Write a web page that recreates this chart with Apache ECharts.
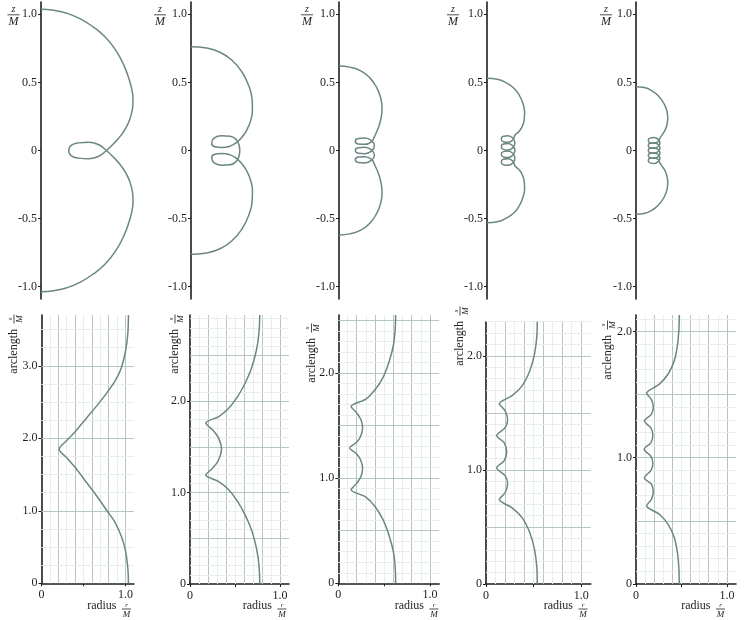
<!DOCTYPE html>
<html>
<head>
<meta charset="utf-8">
<script src="https://cdn.jsdelivr.net/npm/echarts@6/dist/echarts.min.js"></script>
<style>
html, body { margin: 0; padding: 0; background: #fff; }
#main { width: 747px; height: 620px; }
</style>
</head>
<body>
<div id="main"></div>
<script>
// tick labels
var zTicks = [-1, -0.5, 0, 0.5, 1];
var radiusLabels = [0, 1];
var radiusTicks = [0, 0.5, 1];
var arcLabels1 = [0, 1, 2, 3];
var arcLabels = [0, 1, 2];

// meridian curves, [r/M, z/M]
var meridian1 = [[0,1.037],[0.093,1.029],[0.191,1.007],[0.289,0.966],[0.387,0.904],[0.473,0.831],[0.547,0.738],[0.608,0.627],[0.652,0.505],[0.668,0.44],[0.675,0.382],[0.674,0.33],[0.666,0.28],[0.640,0.199],[0.592,0.118],[0.534,0.051],[0.480,0],[0.424,-0.042],[0.350,-0.061],[0.277,-0.056],[0.221,-0.037],[0.203,0],[0.221,0.037],[0.277,0.056],[0.350,0.061],[0.424,0.042],[0.480,0],[0.534,-0.051],[0.592,-0.118],[0.640,-0.199],[0.666,-0.28],[0.674,-0.33],[0.675,-0.382],[0.668,-0.44],[0.652,-0.505],[0.608,-0.627],[0.547,-0.738],[0.473,-0.831],[0.387,-0.904],[0.289,-0.966],[0.191,-1.007],[0.093,-1.029],[0,-1.037]];
var meridian2 = [[0,0.762],[0.115,0.752],[0.213,0.721],[0.299,0.664],[0.373,0.578],[0.422,0.480],[0.449,0.370],[0.451,0.297],[0.439,0.223],[0.409,0.150],[0.373,0.096],[0.331,0.056],[0.287,0.032],[0.225,0.022],[0.176,0.027],[0.152,0.051],[0.169,0.091],[0.225,0.108],[0.287,0.105],[0.331,0.081],[0.353,0.039],[0.358,0],[0.353,-0.039],[0.331,-0.081],[0.287,-0.105],[0.225,-0.108],[0.169,-0.091],[0.152,-0.051],[0.176,-0.027],[0.225,-0.022],[0.287,-0.032],[0.331,-0.056],[0.373,-0.096],[0.409,-0.150],[0.439,-0.223],[0.451,-0.297],[0.449,-0.370],[0.422,-0.480],[0.373,-0.578],[0.299,-0.664],[0.213,-0.721],[0.115,-0.752],[0,-0.762]];
var meridian3 = [[0,0.62],[0.08,0.612],[0.16,0.585],[0.225,0.535],[0.275,0.465],[0.305,0.39],[0.316,0.31],[0.308,0.235],[0.29,0.17],[0.26,0.102],[0.2395,0.0652],[0.19,0.045],[0.1405,0.0482],[0.12,0.068],[0.1405,0.0878],[0.19,0.091],[0.2395,0.0708],[0.26,0.034],[0.2395,-0.0028],[0.19,-0.023],[0.1405,-0.0198],[0.12,0],[0.1405,0.0198],[0.19,0.023],[0.2395,0.0028],[0.26,-0.034],[0.2395,-0.0708],[0.19,-0.091],[0.1405,-0.0878],[0.12,-0.068],[0.1405,-0.0482],[0.19,-0.045],[0.2395,-0.0652],[0.26,-0.102],[0.29,-0.17],[0.308,-0.235],[0.316,-0.31],[0.305,-0.39],[0.275,-0.465],[0.225,-0.535],[0.16,-0.585],[0.08,-0.612],[0,-0.62]];
var meridian4 = [[0,0.53],[0.075,0.523],[0.147,0.493],[0.2,0.455],[0.24,0.4],[0.265,0.34],[0.276,0.28],[0.272,0.22],[0.255,0.17],[0.235,0.14],[0.205,0.112],[0.1904,0.0781],[0.155,0.06],[0.1196,0.0641],[0.105,0.084],[0.1196,0.1039],[0.155,0.108],[0.1904,0.0899],[0.205,0.056],[0.1904,0.0221],[0.155,0.004],[0.1196,0.0081],[0.105,0.028],[0.1196,0.0479],[0.155,0.052],[0.1904,0.0339],[0.205,0],[0.1904,-0.0339],[0.155,-0.052],[0.1196,-0.0479],[0.105,-0.028],[0.1196,-0.0081],[0.155,-0.004],[0.1904,-0.0221],[0.205,-0.056],[0.1904,-0.0899],[0.155,-0.108],[0.1196,-0.1039],[0.105,-0.084],[0.1196,-0.0641],[0.155,-0.06],[0.1904,-0.0781],[0.205,-0.112],[0.235,-0.14],[0.255,-0.17],[0.272,-0.22],[0.276,-0.28],[0.265,-0.34],[0.24,-0.4],[0.2,-0.455],[0.147,-0.493],[0.075,-0.523],[0,-0.53]];
var meridian5 = [[0,0.468],[0.06,0.462],[0.115,0.44],[0.165,0.4],[0.205,0.345],[0.228,0.285],[0.233,0.235],[0.225,0.18],[0.205,0.135],[0.176,0.0925],[0.1634,0.0667],[0.133,0.0533],[0.1026,0.0574],[0.09,0.074],[0.1026,0.0906],[0.133,0.0948],[0.1634,0.0813],[0.176,0.0555],[0.1634,0.0297],[0.133,0.0163],[0.1026,0.0204],[0.09,0.037],[0.1026,0.0536],[0.133,0.0578],[0.1634,0.0443],[0.176,0.0185],[0.1634,-0.0073],[0.133,-0.0208],[0.1026,-0.0166],[0.09,0],[0.1026,0.0166],[0.133,0.0208],[0.1634,0.0073],[0.176,-0.0185],[0.1634,-0.0443],[0.133,-0.0578],[0.1026,-0.0536],[0.09,-0.037],[0.1026,-0.0204],[0.133,-0.0163],[0.1634,-0.0297],[0.176,-0.0555],[0.1634,-0.0813],[0.133,-0.0948],[0.1026,-0.0906],[0.09,-0.074],[0.1026,-0.0574],[0.133,-0.0533],[0.1634,-0.0667],[0.176,-0.0925],[0.205,-0.135],[0.225,-0.18],[0.233,-0.235],[0.228,-0.285],[0.205,-0.345],[0.165,-0.4],[0.115,-0.44],[0.06,-0.462],[0,-0.468]];

// radius against arclength, [r/M, s/M]
var profile1 = [[1.035,0],[1.028,0.2],[1.0,0.45],[0.95,0.65],[0.87,0.85],[0.78,1.0],[0.66,1.2],[0.53,1.4],[0.4,1.6],[0.3,1.73],[0.21,1.85],[0.3,1.97],[0.4,2.09],[0.53,2.27],[0.66,2.45],[0.78,2.63],[0.88,2.8],[0.95,2.97],[1.0,3.2],[1.028,3.45],[1.035,3.70]];
var profile2 = [[0.775,0],[0.77,0.15],[0.755,0.3],[0.725,0.45],[0.68,0.6],[0.615,0.75],[0.53,0.9],[0.43,1.03],[0.32,1.12],[0.175,1.19],[0.255,1.27],[0.315,1.35],[0.35,1.475],[0.315,1.6],[0.255,1.68],[0.175,1.76],[0.32,1.83],[0.43,1.92],[0.53,2.05],[0.615,2.2],[0.68,2.35],[0.725,2.5],[0.755,2.65],[0.77,2.8],[0.775,2.94]];
var profile3 = [[0.625,0],[0.62,0.15],[0.6,0.3],[0.555,0.45],[0.49,0.6],[0.4,0.73],[0.3,0.82],[0.14,0.89],[0.2,0.95],[0.245,1.01],[0.265,1.09],[0.245,1.17],[0.2,1.23],[0.125,1.285],[0.2,1.34],[0.245,1.4],[0.265,1.48],[0.245,1.56],[0.2,1.62],[0.14,1.68],[0.3,1.75],[0.4,1.84],[0.49,1.96],[0.555,2.11],[0.6,2.26],[0.62,2.41],[0.625,2.55]];
var profile4 = [[0.538,0],[0.533,0.15],[0.51,0.3],[0.46,0.45],[0.38,0.58],[0.27,0.67],[0.14,0.74],[0.2,0.8],[0.227,0.88],[0.2,0.95],[0.112,1.02],[0.19,1.08],[0.217,1.16],[0.19,1.24],[0.112,1.3],[0.2,1.37],[0.227,1.44],[0.2,1.52],[0.14,1.58],[0.27,1.65],[0.38,1.74],[0.46,1.87],[0.51,2.02],[0.533,2.17],[0.538,2.30]];
var profile5 = [[0.476,0],[0.472,0.12],[0.455,0.25],[0.42,0.37],[0.355,0.47],[0.26,0.55],[0.117,0.62],[0.17,0.67],[0.19,0.73],[0.17,0.79],[0.092,0.84],[0.165,0.9],[0.185,0.955],[0.165,1.01],[0.09,1.067],[0.165,1.12],[0.185,1.18],[0.165,1.235],[0.092,1.29],[0.17,1.345],[0.19,1.40],[0.17,1.46],[0.117,1.51],[0.26,1.585],[0.355,1.665],[0.42,1.765],[0.455,1.885],[0.472,2.015],[0.476,2.13]];

var meridians = [meridian1, meridian2, meridian3, meridian4, meridian5];
var profiles = [profile1, profile2, profile3, profile4, profile5];
var arcMax = [3.70, 2.94, 2.55, 2.30, 2.13];

var FONT = '"Liberation Serif", "DejaVu Serif", serif';
var INK = '#1e1e1e';
var CURVE = '#6b8783';
var MAJOR = '#b6c7c3';
var MINOR = '#e7eeec';

// panel placement (px)
var topLeft = [41, 191, 339, 487, 636];
var botBox = [
	{left: 41.5, top: 315, bottom: 583.3, width: 92.4},
	{left: 190, top: 315, bottom: 584, width: 99},
	{left: 338.3, top: 315, bottom: 583.3, width: 100.9},
	{left: 486, top: 321.7, bottom: 584, width: 104.8},
	{left: 636, top: 315, bottom: 584, width: 100}
];

function fmt(v) {
	return v === 0 ? '0' : v.toFixed(1);
}

var grids = [], xAxes = [], yAxes = [], series = [], graphics = [];

var axisLine = {show: true, onZero: false, lineStyle: {color: INK, width: 1.6}};
var labelStyle = {fontFamily: FONT, fontSize: 12, color: INK};

// top row: meridian curves
meridians.forEach(function(m, i) {
	grids.push({left: topLeft[i], top: 2, width: 109, height: 297, containLabel: false});
	xAxes.push({type: 'value', gridIndex: i, min: 0, max: 0.8, show: false});
	yAxes.push({
		type: 'value', gridIndex: i, min: -1.09, max: 1.09,
		axisLine: axisLine,
		axisTick: {show: true, customValues: zTicks, length: 3, lineStyle: {color: INK, width: 1}},
		axisLabel: Object.assign({customValues: zTicks, formatter: fmt, margin: 4}, labelStyle),
		splitLine: {show: false}
	});
	series.push({
		type: 'line', xAxisIndex: i, yAxisIndex: i, data: m,
		showSymbol: false, smooth: 0.5, z: 10,
		lineStyle: {color: CURVE, width: 1.5}
	});
});

// bottom row: radius against arclength
profiles.forEach(function(p, i) {
	var k = 5 + i;
	var b = botBox[i];
	grids.push({left: b.left, top: b.top, width: b.width, height: b.bottom - b.top, containLabel: false});
	xAxes.push({
		type: 'value', gridIndex: k, min: 0, max: 1.1,
		axisLine: axisLine,
		axisTick: {show: true, customValues: radiusTicks, length: 3, lineStyle: {color: INK, width: 1}},
		axisLabel: Object.assign({customValues: radiusLabels, formatter: fmt, margin: 6}, labelStyle),
		splitLine: {show: false}
	});
	var labs = i === 0 ? arcLabels1 : arcLabels;
	yAxes.push({
		type: 'value', gridIndex: k, min: 0, max: arcMax[i],
		axisLine: axisLine,
		axisTick: {show: true, customValues: labs, length: 3, lineStyle: {color: INK, width: 1}},
		axisLabel: Object.assign({customValues: labs, formatter: fmt, margin: 4}, labelStyle),
		splitLine: {show: false}
	});

	// grid lines
	var lines = [];
	for (var t = 1; t <= 10; t++) {
		lines.push({xAxis: t / 10, lineStyle: {color: t % 2 ? MINOR : MAJOR, width: 1, type: 'solid'}});
	}
	var major = i === 0 ? 1 : 0.5;
	var minor = i === 0 ? 0.25 : 0.1;
	var n = Math.floor(arcMax[i] / minor + 1e-6);
	for (var j = 1; j <= n; j++) {
		var v = +(j * minor).toFixed(3);
		var isMajor = Math.abs(v / major - Math.round(v / major)) < 1e-6;
		lines.push({yAxis: v, lineStyle: {color: isMajor ? MAJOR : MINOR, width: 1, type: 'solid'}});
	}
	series.push({
		type: 'line', xAxisIndex: k, yAxisIndex: k, data: [[0, 0]],
		showSymbol: false, silent: true, z: 1,
		lineStyle: {width: 0, opacity: 0},
		markLine: {
			silent: true, symbol: ['none', 'none'], animation: false, z: 1,
			label: {show: false}, emphasis: {disabled: true},
			data: lines
		}
	});
	series.push({
		type: 'line', xAxisIndex: k, yAxisIndex: k, data: p,
		showSymbol: false, smooth: 0.3, z: 10,
		lineStyle: {color: CURVE, width: 1.5}
	});
});

// stacked fraction label
function frac(x, y, num, den, w, size, rot) {
	return {
		type: 'group', x: x, y: y, rotation: rot || 0, silent: true,
		children: [
			{type: 'text', style: {text: num, x: 0, y: -0.5, fill: INK, font: 'italic ' + (size - 2) + 'px ' + FONT, align: 'center', verticalAlign: 'bottom'}},
			{type: 'line', shape: {x1: -w / 2, y1: 0, x2: w / 2, y2: 0}, style: {stroke: INK, lineWidth: 0.8}},
			{type: 'text', style: {text: den, x: 0, y: 1, fill: INK, font: 'italic ' + size + 'px ' + FONT, align: 'center', verticalAlign: 'top'}}
		]
	};
}

var zFrac = [[13.5, 14.8], [160, 14.8], [307, 14.8], [453, 14.8], [606, 14.8]];
zFrac.forEach(function(p) {
	graphics.push(frac(p[0], p[1], 'z', 'M', 12, 12));
});

var rFrac = [126.5, 282, 434, 583, 720.5];
rFrac.forEach(function(x) {
	graphics.push(frac(x, 609, 'r', 'M', 9, 9));
	graphics.push({type: 'text', silent: true, style: {text: 'radius', x: x - 10, y: 606, fill: INK, font: '12px ' + FONT, align: 'right', verticalAlign: 'middle'}});
});

var sFrac = [[14, 319], [175, 319], [311.5, 328], [460, 311], [607.5, 325]];
sFrac.forEach(function(p) {
	graphics.push(frac(p[0], p[1], 's', 'M', 9, 9, Math.PI / 2));
	graphics.push({
		type: 'text', silent: true, x: p[0], y: p[1], rotation: Math.PI / 2,
		style: {text: 'arclength', x: -10, y: 0, fill: INK, font: '12px ' + FONT, align: 'right', verticalAlign: 'middle'}
	});
});

var chart = echarts.init(document.getElementById('main'), null, {renderer: 'canvas'});
chart.setOption({
	animation: false,
	backgroundColor: '#ffffff',
	grid: grids,
	xAxis: xAxes,
	yAxis: yAxes,
	series: series,
	graphic: graphics
});
</script>
</body>
</html>
